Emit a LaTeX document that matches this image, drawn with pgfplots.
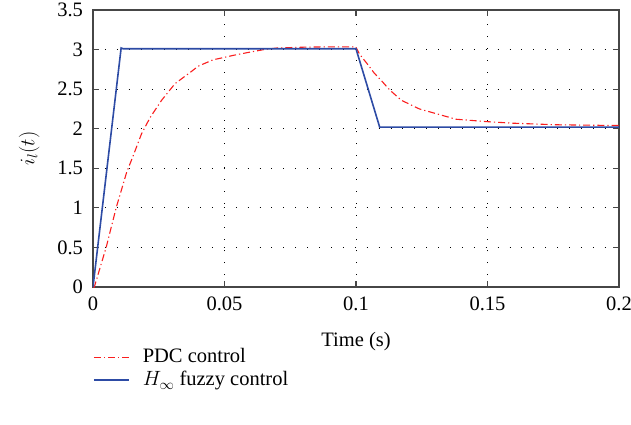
\documentclass[border=0pt]{standalone}
\usepackage{fontspec}
\setmainfont{Liberation Serif}
\usepackage{pgfplots}
\pgfplotsset{compat=1.18}
\definecolor{myblue}{RGB}{45,75,165}
\definecolor{myred}{RGB}{250,30,30}
\definecolor{axgray}{RGB}{70,70,70}
\newcommand{\myfont}{\fontsize{20.5bp}{24bp}\selectfont}
\begin{document}
\myfont
\begin{tikzpicture}
\path[use as bounding box] (-93bp,-138bp) rectangle (538bp,287bp);
\begin{axis}[
  scale only axis,
  width=526bp, height=277bp,
  at={(0,0)}, anchor=south west,
  xmin=0, xmax=0.2, ymin=0, ymax=3.5,
  xtick={0,0.05,0.1,0.15,0.2},
  xticklabels={0,0.05,0.1,0.15,0.2},
  ytick={0,0.5,1,1.5,2,2.5,3,3.5},
  yticklabels={0,0.5,1,1.5,2,2.5,3,3.5},
  tick align=inside,
  major tick length=6bp,
  tick style={axgray, line width=1.2bp},
  axis line style={axgray, line width=1.6bp},
  grid=major,
  grid style={black, line width=0.9bp, dash pattern=on 0.9bp off 11bp},
  ticklabel style={font=\myfont},
  /pgf/number format/assume math mode=true,
  xticklabel style={yshift=-3bp},
  yticklabel style={xshift=-3bp},
  xlabel={Time (s)},
  ylabel={$i_l(t)$},
  xlabel style={font=\myfont, yshift=-7bp},
  ylabel style={font=\myfont, yshift=4bp},
  legend style={at={(0,-0.215)}, anchor=north west, draw=none, fill=none,
     font=\myfont, row sep=1.5bp, inner sep=0pt,
     cells={anchor=west}},
  legend cell align=left,
  legend image code/.code={\draw[#1] (0bp,0bp) -- (35bp,0bp); \path (46bp,0bp);},
]
\addplot[myred, line width=1.1bp, dash pattern=on 7bp off 3bp on 1.2bp off 3bp] coordinates {
(0,0) (0.0005,0) (0.0050,0.5) (0.0088,1.0) (0.0128,1.45) (0.0153,1.66) (0.0185,1.94)
(0.0217,2.14) (0.0261,2.36) (0.0312,2.57) (0.0369,2.71) (0.040,2.79) (0.0456,2.87) (0.0538,2.93)
(0.06,2.97) (0.065,3.0) (0.07,3.02) (0.08,3.03) (0.09,3.035) (0.0999,3.035)
(0.1014,2.94) (0.1045,2.81) (0.107,2.70) (0.1096,2.61) (0.1128,2.49) (0.1172,2.36)
(0.1241,2.25) (0.1305,2.19) (0.138,2.12) (0.1495,2.09) (0.1595,2.07) (0.176,2.05) (0.2,2.04)
};
\addlegendentry{PDC control}
\addplot[myblue, line width=1.6bp] coordinates {
(0,0) (0.0107,3.02) (0.0115,3.01) (0.1,3.01) (0.109,2.02) (0.2,2.02)
};
\addlegendentry{$H_\infty$ fuzzy control}
\end{axis}
\end{tikzpicture}
\end{document}
